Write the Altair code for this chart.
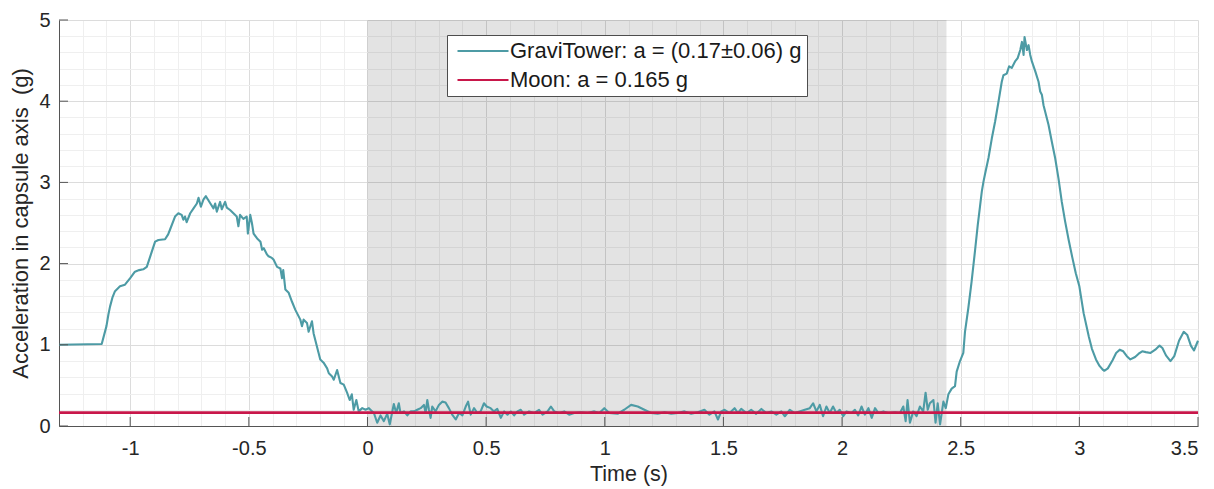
import altair as alt
import pandas as pd

# Capsule-axis acceleration recorded during a GraviTower drop (time in s, acceleration in g)
time_s = [
    -1.3, -1.12, -1.10, -1.092, -1.085, -1.075, -1.064, -1.043, -1.022, -1.0,
    -0.980, -0.962, -0.945, -0.930, -0.912, -0.895, -0.881, -0.853, -0.840, -0.832,
    -0.811, -0.797, -0.783, -0.776, -0.769, -0.762, -0.747, -0.733, -0.719, -0.712,
    -0.702, -0.691, -0.681, -0.662, -0.649, -0.642, -0.635, -0.621, -0.614, -0.600,
    -0.593, -0.579, -0.565, -0.551, -0.544, -0.537, -0.523, -0.509, -0.504, -0.494,
    -0.487, -0.480, -0.465, -0.451, -0.444, -0.437, -0.423, -0.417, -0.403, -0.396,
    -0.381, -0.367, -0.360, -0.355, -0.346, -0.332, -0.318, -0.304, -0.290, -0.283,
    -0.276, -0.269, -0.255, -0.248, -0.234, -0.227, -0.220, -0.206, -0.199, -0.185,
    -0.170, -0.163, -0.149, -0.142, -0.128, -0.114, -0.100, -0.086, -0.075, -0.066,
    -0.058, -0.047, -0.037, -0.022, -0.008, 0.006, 0.020, 0.027, 0.041, 0.055,
    0.069, 0.083, 0.094, 0.104, 0.111, 0.121, 0.132, 0.139, 0.154, 0.168,
    0.182, 0.196, 0.210, 0.224, 0.238, 0.245, 0.252, 0.259, 0.266, 0.273,
    0.287, 0.301, 0.315, 0.329, 0.343, 0.357, 0.372, 0.386, 0.400, 0.414,
    0.424, 0.435, 0.449, 0.463, 0.477, 0.491, 0.502, 0.519, 0.533, 0.547,
    0.562, 0.576, 0.590, 0.604, 0.618, 0.632, 0.646, 0.660, 0.681, 0.702,
    0.723, 0.738, 0.759, 0.773, 0.787, 0.808, 0.829, 0.850, 0.871, 0.900,
    0.928, 0.956, 0.977, 0.998, 1.019, 1.054, 1.082, 1.111, 1.139, 1.167,
    1.195, 1.223, 1.252, 1.280, 1.308, 1.336, 1.364, 1.392, 1.420, 1.441,
    1.462, 1.477, 1.491, 1.505, 1.526, 1.547, 1.561, 1.575, 1.597, 1.617,
    1.638, 1.660, 1.681, 1.702, 1.723, 1.744, 1.759, 1.780, 1.800, 1.821,
    1.843, 1.864, 1.878, 1.892, 1.906, 1.920, 1.934, 1.948, 1.962, 1.976,
    1.990, 2.005, 2.019, 2.040, 2.054, 2.068, 2.082, 2.096, 2.111, 2.125,
    2.139, 2.153, 2.174, 2.195, 2.223, 2.244, 2.258, 2.268, 2.276, 2.286,
    2.300, 2.314, 2.328, 2.342, 2.352, 2.361, 2.370, 2.385, 2.394, 2.403,
    2.413, 2.427, 2.437, 2.448, 2.462, 2.476, 2.483, 2.497, 2.511, 2.518,
    2.532, 2.546, 2.560, 2.572, 2.582, 2.589, 2.596, 2.603, 2.617, 2.631,
    2.645, 2.659, 2.673, 2.680, 2.694, 2.704, 2.715, 2.729, 2.740, 2.751,
    2.758, 2.765, 2.769, 2.779, 2.786, 2.793, 2.800, 2.814, 2.828, 2.835,
    2.842, 2.849, 2.856, 2.863, 2.870, 2.884, 2.898, 2.912, 2.926, 2.940,
    2.955, 2.970, 2.985, 3.000, 3.018, 3.040, 3.053, 3.070, 3.085, 3.100,
    3.105, 3.120, 3.140, 3.155, 3.170, 3.185, 3.200, 3.215, 3.235, 3.250,
    3.265, 3.280, 3.300, 3.320, 3.338, 3.350, 3.365, 3.384, 3.400, 3.420,
    3.440, 3.455, 3.470, 3.483, 3.500,
]
accel_g = [
    1.00, 1.01, 1.23, 1.37, 1.47, 1.58, 1.66, 1.72, 1.74, 1.82,
    1.90, 1.92, 1.93, 1.96, 2.12, 2.27, 2.29, 2.30, 2.36, 2.42,
    2.58, 2.62, 2.60, 2.54, 2.58, 2.51, 2.62, 2.68, 2.74, 2.81,
    2.70, 2.79, 2.83, 2.74, 2.68, 2.74, 2.64, 2.76, 2.67, 2.76,
    2.69, 2.66, 2.62, 2.58, 2.46, 2.60, 2.55, 2.58, 2.37, 2.60,
    2.50, 2.37, 2.31, 2.27, 2.17, 2.19, 2.11, 2.09, 2.07, 2.05,
    1.96, 1.94, 1.82, 1.92, 1.68, 1.64, 1.53, 1.43, 1.35, 1.31,
    1.23, 1.31, 1.27, 1.16, 1.29, 1.14, 1.06, 0.90, 0.82, 0.78,
    0.71, 0.65, 0.61, 0.57, 0.69, 0.53, 0.51, 0.41, 0.32, 0.39,
    0.20, 0.32, 0.18, 0.22, 0.20, 0.22, 0.18, 0.16, 0.04, 0.13,
    0.06, 0.15, 0.02, 0.17, 0.27, 0.16, 0.28, 0.16, 0.18, 0.13,
    0.18, 0.18, 0.20, 0.22, 0.26, 0.16, 0.32, 0.20, 0.10, 0.24,
    0.18, 0.26, 0.30, 0.29, 0.22, 0.14, 0.08, 0.16, 0.13, 0.24,
    0.30, 0.14, 0.22, 0.16, 0.18, 0.28, 0.24, 0.22, 0.18, 0.21,
    0.10, 0.18, 0.14, 0.18, 0.13, 0.18, 0.20, 0.14, 0.18, 0.16,
    0.20, 0.14, 0.18, 0.24, 0.18, 0.16, 0.18, 0.14, 0.16, 0.17,
    0.16, 0.18, 0.16, 0.22, 0.16, 0.15, 0.20, 0.26, 0.24, 0.20,
    0.16, 0.15, 0.17, 0.15, 0.16, 0.18, 0.15, 0.17, 0.20, 0.14,
    0.18, 0.08, 0.18, 0.20, 0.16, 0.22, 0.16, 0.21, 0.16, 0.20,
    0.15, 0.21, 0.16, 0.18, 0.14, 0.18, 0.12, 0.20, 0.16, 0.18,
    0.20, 0.22, 0.28, 0.18, 0.26, 0.12, 0.24, 0.16, 0.24, 0.16,
    0.20, 0.12, 0.18, 0.16, 0.20, 0.13, 0.24, 0.14, 0.22, 0.10,
    0.22, 0.16, 0.18, 0.16, 0.17, 0.16, 0.24, 0.06, 0.32, 0.04,
    0.18, 0.12, 0.24, 0.18, 0.41, 0.20, 0.28, 0.32, 0.04, 0.28,
    0.02, 0.30, 0.22, 0.39, 0.46, 0.49, 0.67, 0.80, 0.90, 1.16,
    1.45, 1.78, 2.15, 2.48, 2.72, 2.89, 3.01, 3.11, 3.30, 3.54,
    3.75, 3.99, 4.24, 4.32, 4.34, 4.43, 4.41, 4.49, 4.53, 4.63,
    4.73, 4.57, 4.79, 4.63, 4.69, 4.57, 4.49, 4.37, 4.24, 4.12,
    4.08, 3.95, 3.87, 3.79, 3.71, 3.50, 3.30, 3.05, 2.76, 2.52,
    2.29, 2.08, 1.88, 1.72, 1.39, 1.10, 0.95, 0.82, 0.74, 0.69,
    0.68, 0.71, 0.81, 0.90, 0.94, 0.92, 0.86, 0.82, 0.85, 0.89,
    0.92, 0.91, 0.90, 0.94, 0.99, 0.96, 0.87, 0.80, 0.86, 1.05,
    1.16, 1.12, 0.99, 0.93, 1.05,
]

moon_g = 0.165
x_domain = [-1.3, 3.5]
y_domain = [0, 5]
free_fall = [0.0, 2.44]  # shaded microgravity phase

gravi_label = "GraviTower: a = (0.17\u00b10.06) g"
moon_label = "Moon: a = 0.165 g"
series_labels = [gravi_label, moon_label]
series_colors = ["#4d9ba5", "#c8174a"]

x_grid = [round(-1.3 + 0.1 * i, 1) for i in range(49)]
y_grid = [round(0.2 * i, 1) for i in range(26)]
x_major = [v for v in x_grid if abs(round(v * 10)) % 5 == 0]
y_major = [v for v in y_grid if round(v * 10) % 10 == 0]

W, H = 1139, 406
FONT = "Liberation Sans"
TXT = "#262626"
AX = "#555555"

gravi = pd.DataFrame({"t": time_s, "a": accel_g, "series": gravi_label})
moon = pd.DataFrame({"t": x_domain, "a": [moon_g, moon_g], "series": moon_label})
shade = pd.DataFrame({"t0": [free_fall[0]], "t1": [free_fall[1]]})
xt = pd.DataFrame({"t": x_major})
yt = pd.DataFrame({"a": y_major})

x_scale = alt.Scale(domain=x_domain, nice=False, zero=False)
y_scale = alt.Scale(domain=y_domain, nice=False)
color_scale = alt.Scale(domain=series_labels, range=series_colors)

x_axis = alt.Axis(
    values=x_grid,
    grid=True,
    gridColor={"condition": {"test": "abs(round(datum.value * 10)) % 5 == 0", "value": "#dcdcdc"},
               "value": "#efefef"},
    gridWidth=1,
    labelExpr="abs(round(datum.value * 10)) % 5 == 0 ? '' + datum.value : ''",
    ticks=False, tickSize=0,
    domainColor=AX, domainWidth=1,
    labelFont=FONT, labelFontSize=20, labelColor=TXT, labelPadding=12,
    labelOverlap=False,
    title="Time (s)", titleFont=FONT, titleFontSize=21.5, titleFontWeight="normal",
    titleColor=TXT, titlePadding=5,
)
y_axis = alt.Axis(
    values=y_grid,
    grid=True,
    gridColor={"condition": {"test": "round(datum.value * 10) % 10 == 0", "value": "#dcdcdc"},
               "value": "#efefef"},
    gridWidth=1,
    labelExpr="round(datum.value * 10) % 10 == 0 ? '' + datum.value : ''",
    ticks=False, tickSize=0,
    domainColor=AX, domainWidth=1,
    labelFont=FONT, labelFontSize=20, labelColor=TXT, labelPadding=9,
    labelOverlap=False,
    title="Acceleration in capsule axis\u00a0 (g)", titleFont=FONT, titleFontSize=22,
    titleFontWeight="normal", titleColor=TXT, titlePadding=6,
)

# legend swatch: a long horizontal stroke drawn from a small symbol size
legend = alt.Legend(
    title=None, orient="none", legendX=388, legendY=15,
    fillColor="white", strokeColor="#4d4d4d",
    padding=5, rowPadding=7, symbolType="M-5,0H5", symbolSize=104,
    symbolStrokeWidth=2.2, symbolOffset=20, labelOffset=16,
    labelFont=FONT, labelFontSize=22, labelColor="#1a1a1a", labelLimit=500,
)

base_x = alt.X("t:Q", scale=x_scale, axis=x_axis)
base_y = alt.Y("a:Q", scale=y_scale, axis=y_axis)

band = alt.Chart(shade).mark_rect(color="black", opacity=0.11).encode(
    x=alt.X("t0:Q", scale=x_scale, axis=x_axis),
    x2="t1:Q",
    y=alt.value(0),
    y2=alt.value(H),
)

gravi_line = alt.Chart(gravi).mark_line(strokeWidth=2.1, strokeJoin="round").encode(
    x=base_x, y=base_y,
    color=alt.Color("series:N", scale=color_scale, legend=legend),
)

moon_line = alt.Chart(moon).mark_line(strokeWidth=2.6).encode(
    x=base_x, y=base_y,
    color=alt.Color("series:N", scale=color_scale, legend=legend),
)

x_ticks = alt.Chart(xt).mark_rule(color=AX, strokeWidth=1).encode(
    x=alt.X("t:Q", scale=x_scale, axis=x_axis),
    y=alt.value(H),
    y2=alt.value(H - 9),
)
y_ticks = alt.Chart(yt).mark_rule(color=AX, strokeWidth=1).encode(
    y=alt.Y("a:Q", scale=y_scale, axis=y_axis),
    x=alt.value(0),
    x2=alt.value(9),
)

chart = (
    alt.layer(band, gravi_line, moon_line, x_ticks, y_ticks)
    .properties(
        width=W, height=H,
        autosize=alt.AutoSizeParams(type="none"),
        padding={"left": 59, "top": 20, "right": 16, "bottom": 63},
        background="white",
    )
    .configure_view(stroke=None)
    .configure_legend(strokeWidth=1, cornerRadius=0)
)

chart.save("out.html", embed_options={"renderer": "svg", "actions": False})
